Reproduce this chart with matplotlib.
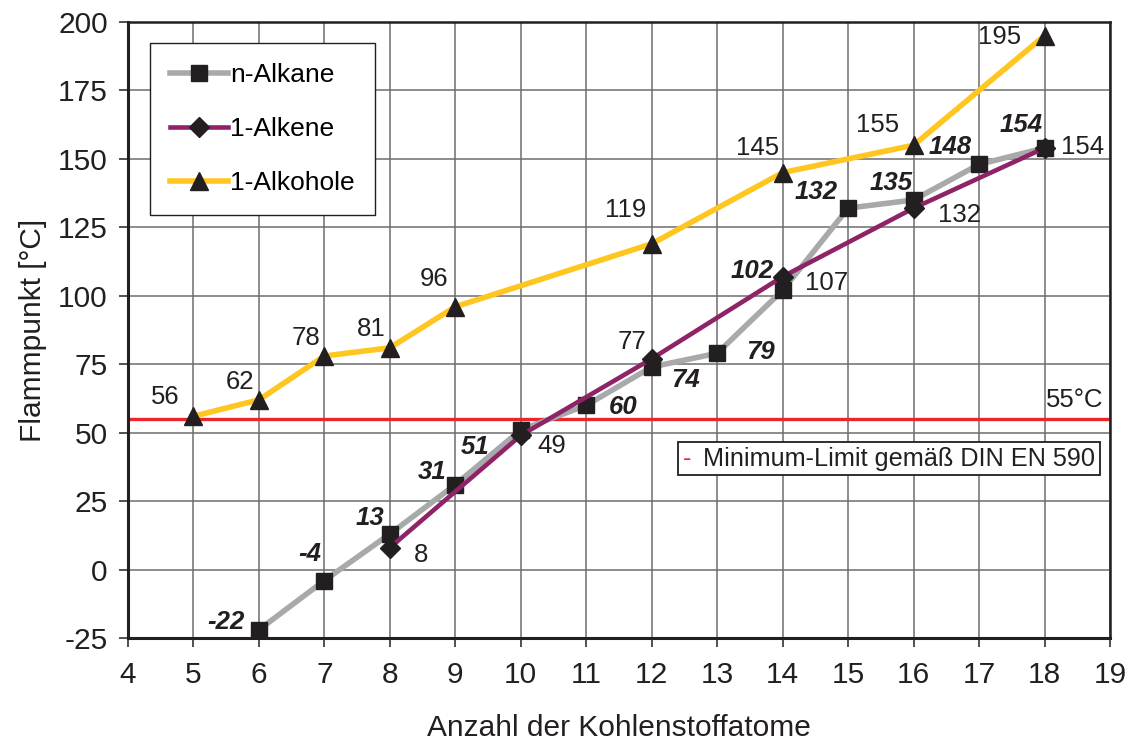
import matplotlib
matplotlib.use("Agg")
import matplotlib.pyplot as plt
from matplotlib.offsetbox import TextArea, HPacker, AnchoredOffsetbox

plt.rcParams['font.family'] = ['Liberation Sans', 'DejaVu Sans']
plt.rcParams['axes.unicode_minus'] = False

# ---- data ----
alkane_x = [6, 7, 8, 9, 10, 11, 12, 13, 14, 15, 16, 17, 18]
alkane_y = [-22, -4, 13, 31, 51, 60, 74, 79, 102, 132, 135, 148, 154]
alkene_x = [8, 10, 12, 14, 16, 18]
alkene_y = [8, 49, 77, 107, 132, 154]
alkohol_x = [5, 6, 7, 8, 9, 12, 14, 16, 18]
alkohol_y = [56, 62, 78, 81, 96, 119, 145, 155, 195]
limit_value = 55
series_names = ["n-Alkane", "1-Alkene", "1-Alkohole"]
x_ticks = list(range(4, 20))
y_ticks = [-25, 0, 25, 50, 75, 100, 125, 150, 175, 200]

# label offsets (pixels, dx, dy-up)
alkane_off = [(-33, 8), (-15, 27), (-20, 16), (-23, 13), (-46, -17), (37, -2), (34, -13),
              (43, 1), (-31, 19), (-32, 16), (-22, 17), (-29, 17), (-23, 23)]
alkene_off = [(31, -7), (31, -11), (-20, 17), (44, -6), (46, -7), (38, 1)]
alkohol_off = [(-28, 19), (-19, 18), (-18, 18), (-19, 19), (-21, 28), (-26, 34),
               (-25, 25), (-36, 20), (-45, -1)]

GRAY = "#A7A9AB"
PURPLE = "#8E2467"
YELLOW = "#FFC620"
RED = "#E8262C"
INK = "#231F20"

fig = plt.figure(figsize=(11.31, 7.45), dpi=100)
ax = fig.add_axes([128 / 1131, 1 - 638 / 745, (1110 - 128) / 1131, (638 - 22) / 745])

ax.set_xlim(4, 19)
ax.set_ylim(-25, 200)
ax.set_xticks(x_ticks)
ax.set_yticks(y_ticks)
ax.grid(True, color="#6d6d6d", linewidth=1.1)
ax.set_axisbelow(True)

ax.axhline(limit_value, color=RED, linewidth=2.4, zorder=2)

l1, = ax.plot(alkane_x, alkane_y, color=GRAY, linewidth=4.0, marker="s", markersize=12,
              markerfacecolor=INK, markeredgecolor=INK, zorder=3)
l2, = ax.plot(alkene_x, alkene_y, color=PURPLE, linewidth=3.3, marker="D", markersize=10,
              markerfacecolor=INK, markeredgecolor=INK, zorder=4)
l3, = ax.plot(alkohol_x, alkohol_y, color=YELLOW, linewidth=4.0, marker="^", markersize=13,
              markerfacecolor=INK, markeredgecolor=INK, zorder=3)

k = 0.72
LFS = 18.5
for x, y, (dx, dy) in zip(alkane_x, alkane_y, alkane_off):
    ax.annotate(str(y), (x, y), xytext=(dx * k, dy * k), textcoords="offset points",
                ha="center", va="center", fontsize=LFS, fontweight="bold", fontstyle="italic",
                color=INK, zorder=6)
for x, y, (dx, dy) in zip(alkene_x, alkene_y, alkene_off):
    ax.annotate(str(y), (x, y), xytext=(dx * k, dy * k), textcoords="offset points",
                ha="center", va="center", fontsize=LFS, color=INK, zorder=6)
for x, y, (dx, dy) in zip(alkohol_x, alkohol_y, alkohol_off):
    ax.annotate(str(y), (x, y), xytext=(dx * k, dy * k), textcoords="offset points",
                ha="center", va="center", fontsize=LFS, color=INK, zorder=6)

ax.annotate(f"{limit_value}°C", (19, limit_value), xytext=(-5, 14), textcoords="offset points",
            ha="right", va="center", fontsize=LFS, color=INK)

leg = ax.legend([l1, l2, l3], series_names, loc="upper left",
                bbox_to_anchor=((150 - 128) / 982, (638 - 43) / 616), borderaxespad=0,
                fontsize=19, frameon=True, fancybox=False, edgecolor=INK,
                handlelength=2.2, handletextpad=0.1, labelspacing=1.15,
                borderpad=0.75)
leg.get_frame().set_linewidth(1.0)
leg.get_frame().set_alpha(1)
leg.set_zorder(7)

ta1 = TextArea("-", textprops=dict(color=RED, fontsize=18.2))
ta2 = TextArea("Minimum-Limit gemäß DIN EN 590", textprops=dict(color=INK, fontsize=18.2))
box = HPacker(children=[ta1, ta2], align="center", pad=0, sep=9)
anch = AnchoredOffsetbox(loc="upper left", child=box, pad=0.33, borderpad=0, frameon=True,
                         bbox_to_anchor=((678 - 128) / 982, (638 - 442) / 616),
                         bbox_transform=ax.transAxes)
anch.patch.set_edgecolor(INK)
anch.patch.set_linewidth(1.3)
anch.patch.set_boxstyle("square", pad=0)
anch.set_zorder(7)
ax.add_artist(anch)

for s in ["left", "bottom"]:
    ax.spines[s].set_linewidth(2.2)
    ax.spines[s].set_color(INK)
for s in ["top", "right"]:
    ax.spines[s].set_linewidth(1.8)
    ax.spines[s].set_color(INK)

ax.tick_params(axis="both", labelsize=21.5, colors=INK, length=6.5, width=1.1,
               direction="out")
ax.tick_params(axis="x", pad=10)
ax.tick_params(axis="y", pad=8)
ax.set_xlabel("Anzahl der Kohlenstoffatome", fontsize=21.5, color=INK, labelpad=18)
ax.set_ylabel("Flammpunkt [°C]", fontsize=21.5, color=INK, labelpad=8)

fig.savefig("out.png", dpi=100)
